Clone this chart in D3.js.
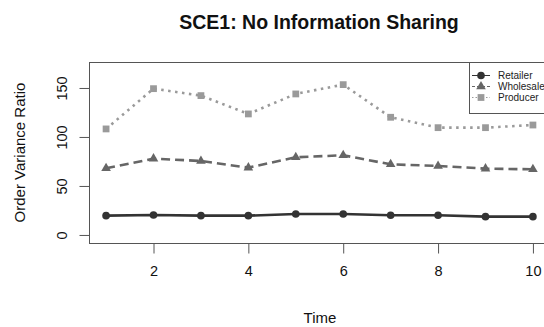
<!DOCTYPE html>
<html>
<head>
<meta charset="utf-8">
<script src="https://cdn.jsdelivr.net/npm/d3@7"></script>
<style>
  body { margin: 0; background: #fff; }
  svg { font-family: "Liberation Sans", Arial, sans-serif; }
</style>
</head>
<body>
<div class="chart"></div>
<script>
// data
var time = [1, 2, 3, 4, 5, 6, 7, 8, 9, 10];
var retailer = [19.7, 20.4, 19.7, 19.7, 21.4, 21.4, 20.1, 20.1, 18.7, 18.7];
var wholesaler = [68, 77.9, 75.5, 68.7, 79.3, 81.3, 72.1, 70.4, 67.7, 67];
var producer = [108.2, 149.3, 142.2, 123.5, 143.9, 153.4, 120.1, 109.5, 109.5, 112.2];
var seriesNames = ["Retailer", "Wholesaler", "Producer"];
var xTicks = [2, 4, 6, 8, 10];
var yTicks = [0, 50, 100, 150];

var width = 544, height = 327;
var plotLeft = 89, plotRight = 550, plotTop = 62, plotBottom = 243;

var svg = d3.select(".chart").append("svg")
  .attr("width", width)
  .attr("height", height);

var x = d3.scaleLinear().domain([0.64, 10.36]).range([plotLeft, plotRight]);
var y = d3.scaleLinear().domain([-8.2, 176.5]).range([plotBottom, plotTop]);

var styles = {
  Retailer: { color: "#333333", dash: null, shape: d3.symbolCircle, size: 46 },
  Wholesaler: { color: "#666666", dash: "9,5", shape: d3.symbolTriangle, size: 40 },
  Producer: { color: "#9a9a9a", dash: "2.5,4.5", shape: d3.symbolSquare, size: 46 }
};

var series = [
  { name: seriesNames[0], values: retailer },
  { name: seriesNames[1], values: wholesaler },
  { name: seriesNames[2], values: producer }
];

// plot box
svg.append("rect")
  .attr("x", plotLeft + 0.5).attr("y", plotTop + 0.5)
  .attr("width", plotRight - plotLeft).attr("height", plotBottom - plotTop)
  .attr("fill", "none").attr("stroke", "#555").attr("stroke-width", 1);

// axes
var xAxis = svg.append("g")
  .attr("transform", "translate(0," + (plotBottom + 0.5) + ")")
  .call(d3.axisBottom(x).tickValues(xTicks).tickSize(10).tickPadding(12).tickFormat(d3.format("d")));
xAxis.select(".domain").remove();
xAxis.selectAll("line").attr("stroke", "#555");
xAxis.selectAll("text").attr("font-size", 14.5).attr("fill", "#111")
  .attr("font-family", "Liberation Sans, Arial, sans-serif");

var yAxis = svg.append("g")
  .attr("transform", "translate(" + (plotLeft + 0.5) + ",0)")
  .call(d3.axisLeft(y).tickValues(yTicks).tickSize(10).tickFormat(d3.format("d")));
yAxis.select(".domain").remove();
yAxis.append("line")
  .attr("x1", 0).attr("x2", 0)
  .attr("y1", y(0)).attr("y2", y(150))
  .attr("stroke", "#555");
yAxis.selectAll("line").attr("stroke", "#555");
yAxis.selectAll(".tick text")
  .attr("font-size", 14.5).attr("fill", "#111")
  .attr("font-family", "Liberation Sans, Arial, sans-serif")
  .attr("text-anchor", "middle")
  .attr("x", null)
  .attr("transform", "translate(-28,0) rotate(-90)")
  .attr("dy", "0.35em");

// lines and markers
var line = d3.line()
  .x(function (d, i) { return x(time[i]); })
  .y(function (d) { return y(d); });

series.forEach(function (s) {
  var st = styles[s.name];
  svg.append("path")
    .datum(s.values)
    .attr("d", line)
    .attr("fill", "none")
    .attr("stroke", st.color)
    .attr("stroke-width", 2.6)
    .attr("stroke-dasharray", st.dash);

  svg.selectAll(".pt-" + s.name)
    .data(s.values)
    .enter()
    .append("path")
    .attr("d", d3.symbol().type(st.shape).size(st.size))
    .attr("transform", function (d, i) {
      return "translate(" + x(time[i]) + "," + y(d) + ")";
    })
    .attr("fill", st.color);
});

// legend
var lg = svg.append("g");
lg.append("rect")
  .attr("x", 469.5).attr("y", plotTop + 0.5)
  .attr("width", plotRight - 469.5).attr("height", 51)
  .attr("fill", "#fff").attr("stroke", "#555");

seriesNames.forEach(function (name, i) {
  var st = styles[name];
  var ly = 75.5 + i * 11;
  lg.append("line")
    .attr("x1", 472).attr("x2", 490)
    .attr("y1", ly).attr("y2", ly)
    .attr("stroke", st.color).attr("stroke-width", 1)
    .attr("stroke-dasharray", st.dash ? (name === "Producer" ? "1.5,2" : "3,2") : null);
  lg.append("path")
    .attr("d", d3.symbol().type(st.shape).size(st.size))
    .attr("transform", "translate(481," + ly + ")")
    .attr("fill", st.color);
  lg.append("text")
    .attr("x", 498).attr("y", ly)
    .attr("dy", "0.35em")
    .attr("font-size", 10)
    .attr("fill", "#222")
    .text(name);
});

// titles
svg.append("text")
  .attr("x", 319).attr("y", 28.5)
  .attr("text-anchor", "middle")
  .attr("font-size", 19.5).attr("font-weight", "bold")
  .attr("fill", "#111")
  .text("SCE1: No Information Sharing");

svg.append("text")
  .attr("x", 320).attr("y", 323)
  .attr("text-anchor", "middle")
  .attr("font-size", 15).attr("fill", "#111")
  .text("Time");

svg.append("text")
  .attr("transform", "translate(25," + ((plotTop + plotBottom) / 2) + ") rotate(-90)")
  .attr("text-anchor", "middle")
  .attr("font-size", 15).attr("fill", "#111")
  .text("Order Variance Ratio");
</script>
</body>
</html>
